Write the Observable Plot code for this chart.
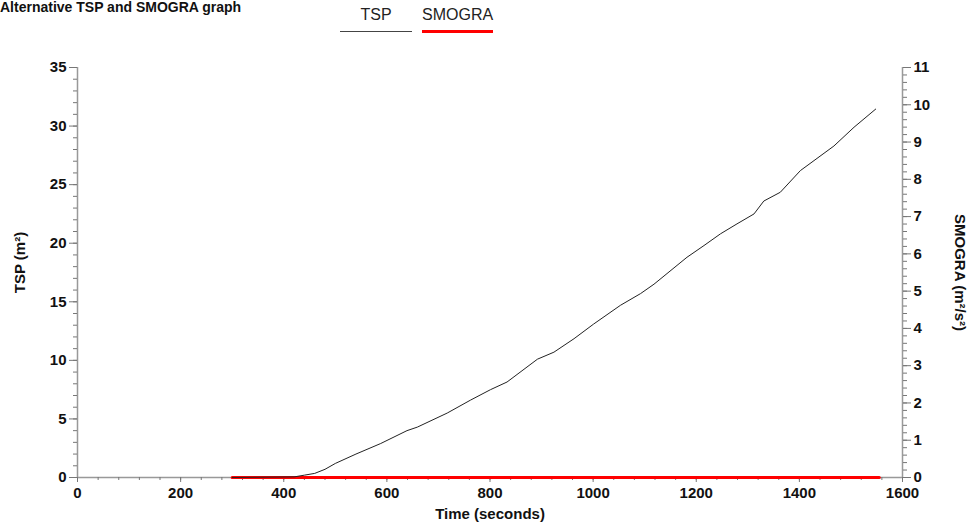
<!DOCTYPE html>
<html>
<head>
<meta charset="utf-8">
<script src="https://cdn.jsdelivr.net/npm/d3@7"></script>
<script src="https://cdn.jsdelivr.net/npm/@observablehq/plot@0.6"></script>
<style>
  html, body { margin: 0; padding: 0; background: white; overflow: hidden; }
  #wrap { position: relative; width: 968px; height: 526px; overflow: hidden; }
  #title { position: absolute; left: 0px; top: 0px; font: bold 14px "Liberation Sans", Arial, sans-serif; line-height: 15px; color: #111; white-space: nowrap; }
  .leg { position: absolute; font: 16px "Liberation Sans Narrow", "Liberation Sans", Arial, sans-serif; color: #222; text-align: center; }
  .legline { position: absolute; }
</style>
</head>
<body>
<div id="wrap">
  <div id="chart"></div>
  <div id="title">Alternative TSP and SMOGRA graph</div>
  <div class="leg" style="left:340px; top:6px; width:72px;">TSP</div>
  <div class="legline" style="left:340px; top:31px; width:72px; height:1px; background:#444;"></div>
  <div class="leg" style="left:422px; top:6px; width:71px;">SMOGRA</div>
  <div class="legline" style="left:422px; top:30px; width:71px; height:3px; background:#ff0000;"></div>
</div>
<script>
// Data
const tspTime  = [300, 420, 440, 460, 480, 500, 540, 588, 639, 659, 717, 762, 801, 833, 892, 924, 963, 1001, 1053, 1092, 1118, 1182, 1215, 1247, 1279, 1312, 1331, 1363, 1402, 1467, 1506, 1548];
const tspValue = [0, 0.05, 0.2, 0.35, 0.7, 1.2, 2.0, 2.9, 4.0, 4.3, 5.5, 6.6, 7.5, 8.15, 10.1, 10.7, 11.85, 13.1, 14.7, 15.7, 16.5, 18.8, 19.8, 20.8, 21.65, 22.5, 23.6, 24.35, 26.2, 28.3, 29.9, 31.45];
const smograTime  = [300, 1555];
const smograValue = [0, 0];

const xTicks = [0, 200, 400, 600, 800, 1000, 1200, 1400, 1600];
const xMinorTicks = d3.range(0, 1601, 40);
const tspTicks = [0, 5, 10, 15, 20, 25, 30, 35];
const tspMinorTicks = d3.range(0, 36, 1);
const smograTicks = [0, 1, 2, 3, 4, 5, 6, 7, 8, 9, 10, 11];
const smograMinorTicks = d3.range(0, 55.5, 1).map(d => d / 5);

const tspMax = 35, smograMax = 11;
const toLeft = v => v * tspMax / smograMax;

const tsp = tspTime.map((t, i) => ({t, v: tspValue[i]}));
const smogra = smograTime.map((t, i) => ({t, v: smograValue[i]}));

const axisColor = "#999";
const font = "'Liberation Sans', Arial, sans-serif";

const chart = Plot.plot({
  width: 968,
  height: 526,
  marginTop: 67,
  marginBottom: 49,
  marginLeft: 77,
  marginRight: 66,
  x: {domain: [0, 1600]},
  y: {domain: [0, tspMax]},
  style: {fontFamily: font, fontSize: "15px", fontWeight: "bold", color: "#111", background: "white"},
  marks: [
    // axis lines
    Plot.ruleY([0], {stroke: axisColor, strokeWidth: 1.5}),
    Plot.ruleX([0], {stroke: axisColor, strokeWidth: 1.5}),
    Plot.ruleX([1600], {stroke: axisColor, strokeWidth: 1.5}),
    // x axis
    Plot.axisX(xMinorTicks, {tickSize: 3, text: null, stroke: "#777", label: null}),
    Plot.axisX(xTicks, {tickSize: 5, tickPadding: 5, stroke: "#777", fill: "#111", label: null, fontSize: 15, tickFormat: d => String(d)}),
    // left y axis (TSP)
    Plot.axisY(tspMinorTicks, {anchor: "left", tickSize: 4, text: null, stroke: "#777", label: null}),
    Plot.axisY(tspTicks, {anchor: "left", tickSize: 8, tickPadding: 3, stroke: "#777", fill: "#111", label: null, fontSize: 15, tickFormat: d => String(d)}),
    // right y axis (SMOGRA)
    Plot.axisY(smograMinorTicks, {anchor: "right", y: toLeft, tickSize: 4, text: null, stroke: "#777", label: null}),
    Plot.axisY(smograTicks, {anchor: "right", y: toLeft, tickSize: 8, tickPadding: 3, stroke: "#777", fill: "#111", label: null, fontSize: 15, tickFormat: d => String(d)}),
    // axis titles
    Plot.text(["Time (seconds)"], {frameAnchor: "bottom", dy: 41, fontSize: 15, fontWeight: "bold", fill: "#111"}),
    Plot.text(["TSP (m²)"], {frameAnchor: "left", textAnchor: "middle", dx: -57, dy: -10, rotate: -90, fontSize: 15, fontWeight: "bold", fill: "#111"}),
    Plot.text(["SMOGRA (m²/s²)"], {frameAnchor: "right", textAnchor: "middle", dx: 57, dy: 0, rotate: 90, fontSize: 15, fontWeight: "bold", fill: "#111"}),
    // series
    Plot.line(smogra, {x: "t", y: d => toLeft(d.v), stroke: "#ff0000", strokeWidth: 3}),
    Plot.line(tsp, {x: "t", y: "v", stroke: "#222", strokeWidth: 1})
  ]
});
document.getElementById("chart").appendChild(chart);
</script>
</body>
</html>
